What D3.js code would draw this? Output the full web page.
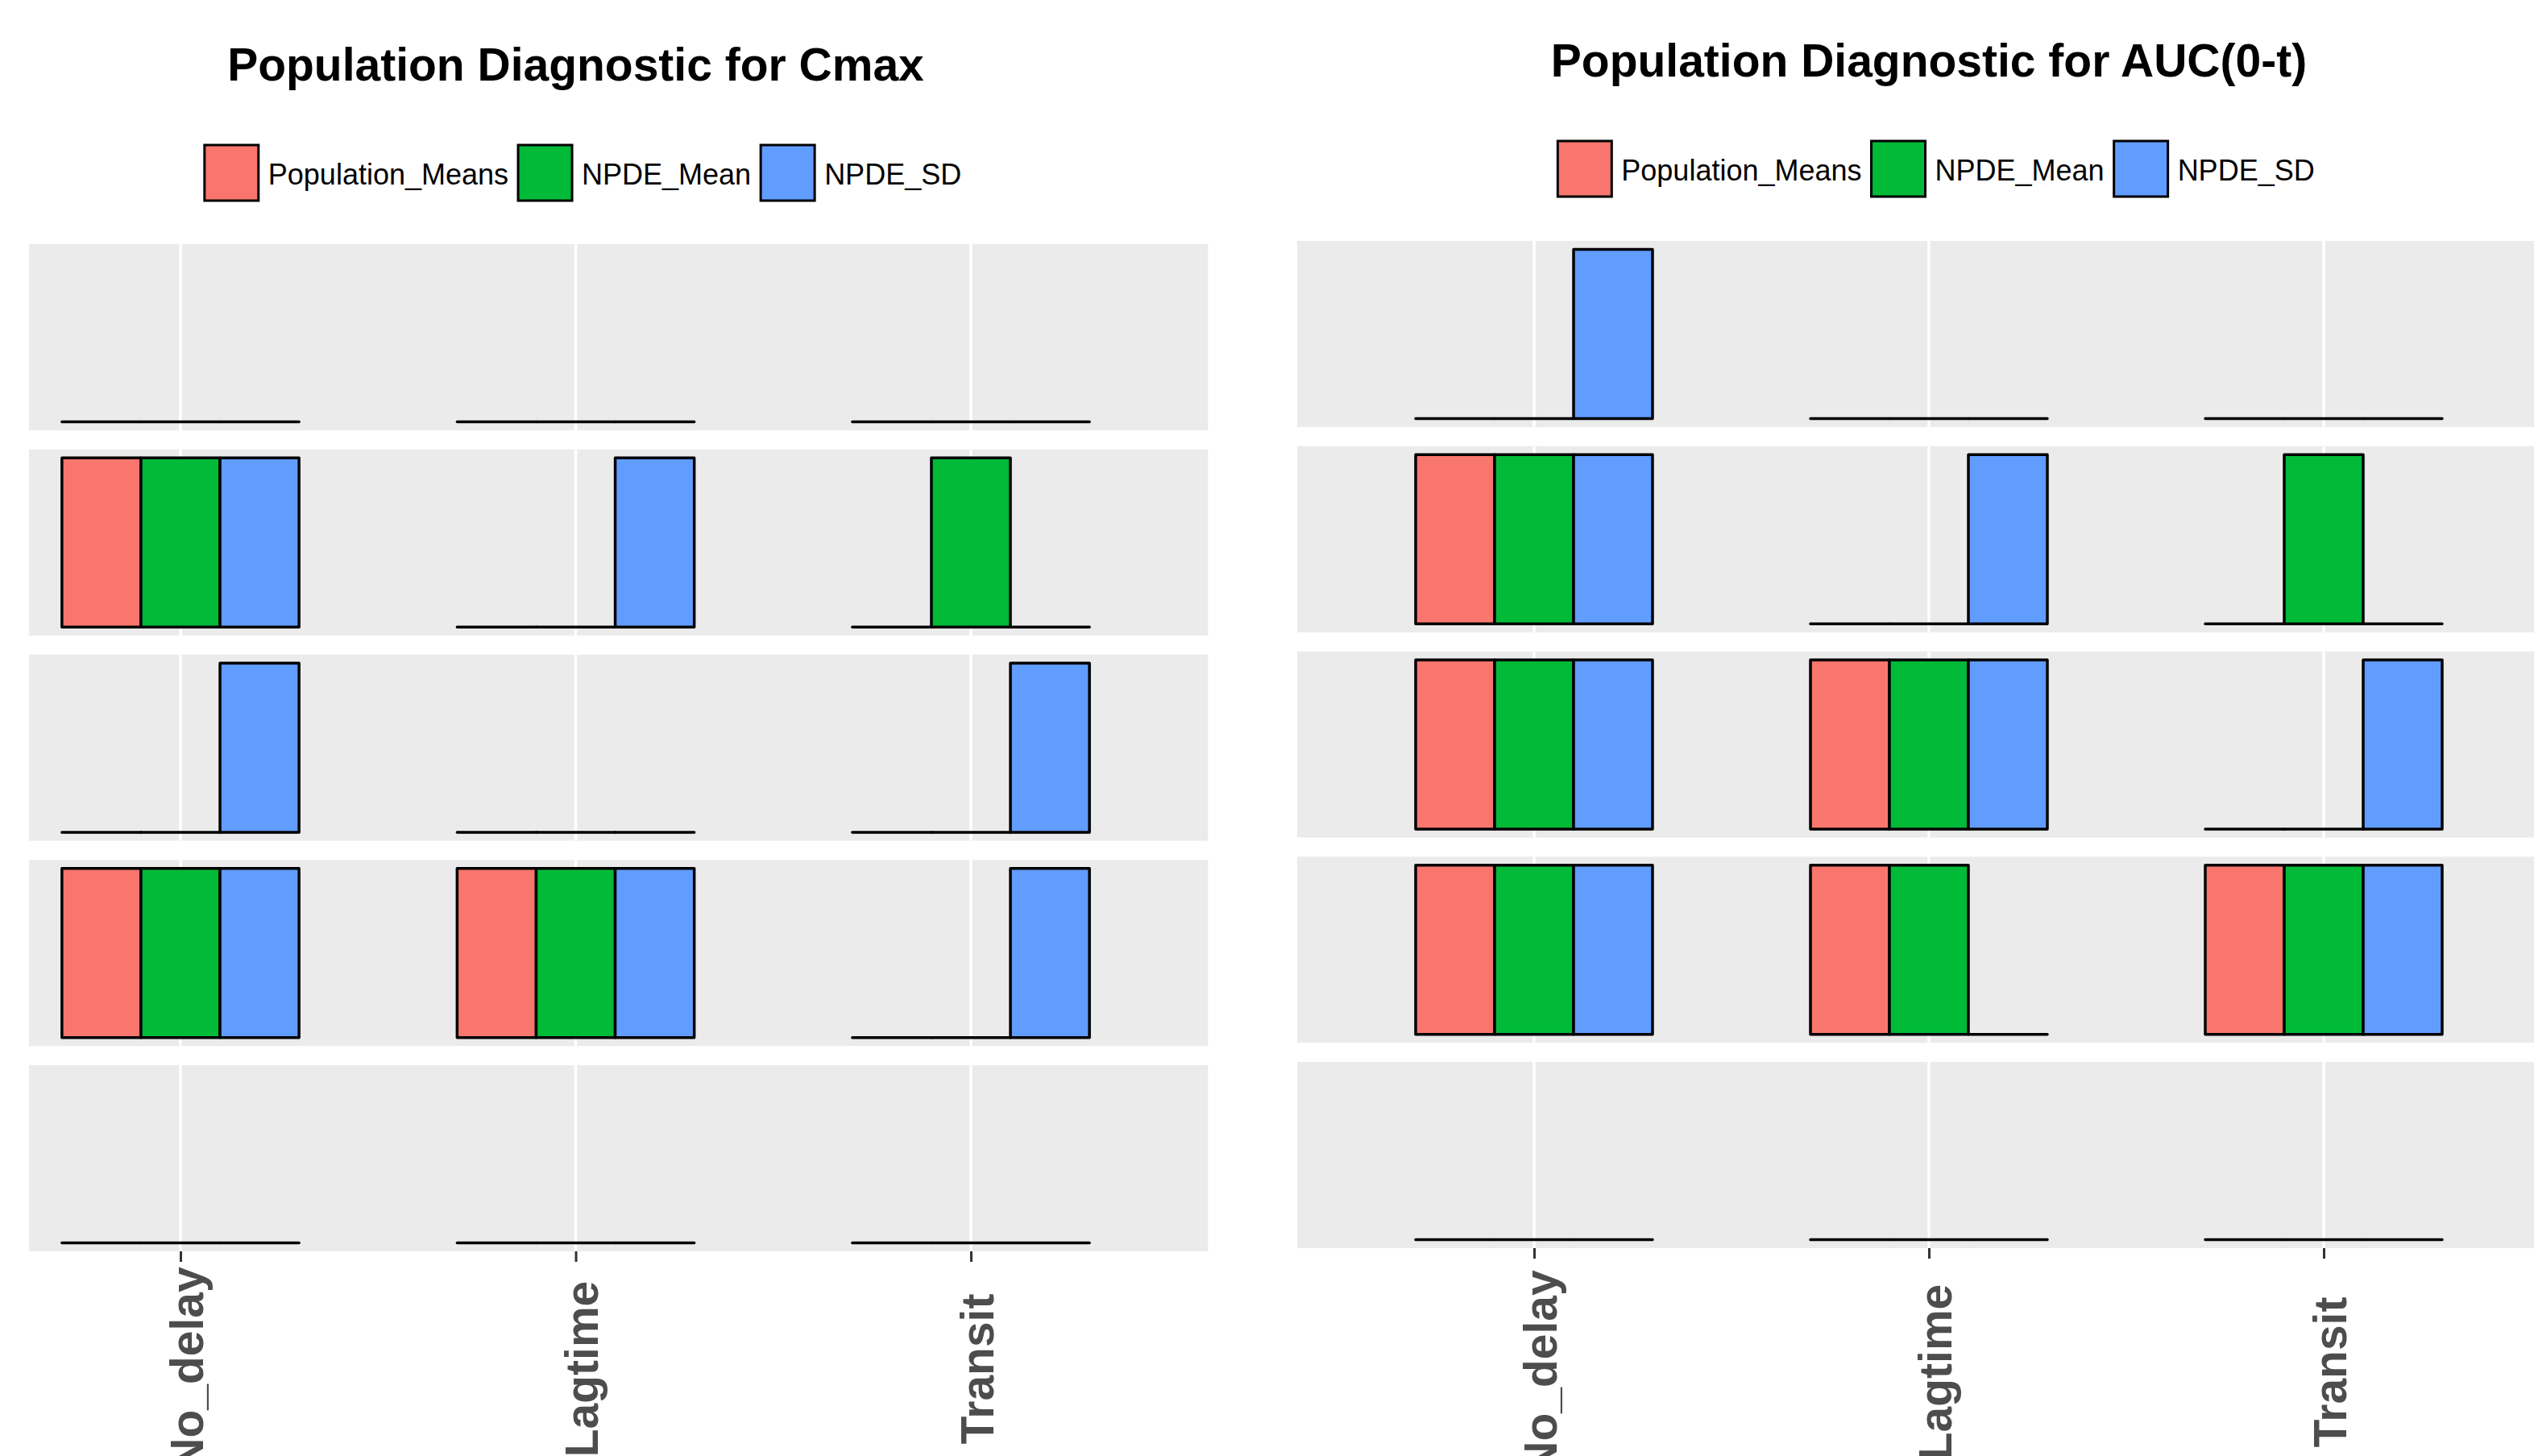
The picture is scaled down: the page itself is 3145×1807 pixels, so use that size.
<!DOCTYPE html>
<html>
<head>
<meta charset="utf-8">
<script src="https://cdn.jsdelivr.net/npm/d3@7"></script>
<style>
  body { margin: 0; background: #fff; }
  svg { display: block; font-family: "Liberation Sans", Arial, sans-serif; }
</style>
</head>
<body>
<svg id="chart" width="3145" height="1807"></svg>
<script>
const models = ["No_delay", "Lagtime", "Transit"];
const seriesNames = ["Population_Means", "NPDE_Mean", "NPDE_SD"];
const seriesColors = ["#F8766D", "#00BA38", "#619CFF"];

// facet rows top to bottom; per model: [Population_Means, NPDE_Mean, NPDE_SD]
const cmaxRows = [
  [[0, 0, 0], [0, 0, 0], [0, 0, 0]],
  [[1, 1, 1], [0, 0, 1], [0, 1, 0]],
  [[0, 0, 1], [0, 0, 0], [0, 0, 1]],
  [[1, 1, 1], [1, 1, 1], [0, 0, 1]],
  [[0, 0, 0], [0, 0, 0], [0, 0, 0]]
];
const aucRows = [
  [[0, 0, 1], [0, 0, 0], [0, 0, 0]],
  [[1, 1, 1], [0, 0, 1], [0, 1, 0]],
  [[1, 1, 1], [1, 1, 1], [0, 0, 1]],
  [[1, 1, 1], [1, 1, 0], [1, 1, 1]],
  [[0, 0, 0], [0, 0, 0], [0, 0, 0]]
];

const charts = [
  { id: "cmax", title: "Population Diagnostic for Cmax", rows: cmaxRows,
    xRange: [224, 1205], clipLeft: 36, titleY: 100, legendTop: 180, panelTop: 303 },
  { id: "auc", title: "Population Diagnostic for AUC(0-t)", rows: aucRows,
    xRange: [1904, 2884], clipLeft: 1500, titleY: 95, legendTop: 175, panelTop: 299 }
];

const svg = d3.select("#chart");
const rowH = 231;
const rowGap = 23.75;

const drawChart = (c) => {
  const x = d3.scalePoint().domain(models).range(c.xRange);
  const step = x.step();
  const panelLeft = c.xRange[0] - 0.6 * step;
  const panelRight = c.xRange[1] + 0.6 * step;
  const center = (panelLeft + panelRight) / 2;

  const dodge = d3.scaleBand().domain(seriesNames).range([-0.3 * step, 0.3 * step]);

  const rowIdx = d3.range(c.rows.length);
  const panelBottom = c.panelTop + c.rows.length * rowH + (c.rows.length - 1) * rowGap;
  const rowScale = d3.scaleBand()
    .domain(rowIdx)
    .range([c.panelTop, panelBottom])
    .paddingInner(rowGap / (rowH + rowGap));

  const y = d3.scaleLinear().domain([-0.05, 1.05]).range([rowH, 0]);

  svg.append("defs").append("clipPath")
    .attr("id", "clip-" + c.id)
    .append("rect")
    .attr("x", c.clipLeft)
    .attr("y", 0)
    .attr("width", 3145 - c.clipLeft)
    .attr("height", 1807);

  const g = svg.append("g").attr("clip-path", "url(#clip-" + c.id + ")");

  // title
  g.append("text")
    .attr("x", center)
    .attr("y", c.titleY)
    .attr("text-anchor", "middle")
    .style("font-size", "57px")
    .style("font-weight", "bold")
    .style("fill", "#000")
    .text(c.title);

  // legend
  const legend = g.append("g");
  let lx = 0;
  seriesNames.forEach((name, i) => {
    legend.append("rect")
      .attr("x", lx)
      .attr("y", 0)
      .attr("width", 67)
      .attr("height", 69)
      .attr("fill", seriesColors[i])
      .attr("stroke", "#000")
      .attr("stroke-width", 3);
    const t = legend.append("text")
      .attr("x", lx + 79)
      .attr("y", 49)
      .style("font-size", "36px")
      .style("fill", "#000")
      .text(name);
    lx += 79 + t.node().getComputedTextLength() + 12;
  });
  const legendW = lx - 12;
  legend.attr("transform", `translate(${center + 9 - legendW / 2},${c.legendTop})`);

  // facet rows
  const rows = g.selectAll("g.row")
    .data(rowIdx)
    .join("g")
    .attr("class", "row")
    .attr("transform", (r) => `translate(0,${rowScale(r)})`);

  rows.append("rect")
    .attr("x", panelLeft)
    .attr("y", 0)
    .attr("width", panelRight - panelLeft)
    .attr("height", rowH)
    .attr("fill", "#EBEBEB");

  rows.selectAll("line.grid")
    .data(models)
    .join("line")
    .attr("class", "grid")
    .attr("x1", (m) => x(m))
    .attr("x2", (m) => x(m))
    .attr("y1", 0)
    .attr("y2", rowH)
    .attr("stroke", "#fff")
    .attr("stroke-width", 3.5);

  rows.selectAll("path.bar")
    .data((r) => {
      const out = [];
      models.forEach((m, mi) => {
        seriesNames.forEach((s, si) => {
          out.push({ model: m, series: s, color: seriesColors[si], value: c.rows[r][mi][si] });
        });
      });
      return out;
    })
    .join("path")
    .attr("class", "bar")
    .attr("d", (d) => {
      const x0 = x(d.model) + dodge(d.series);
      const x1 = x0 + dodge.bandwidth();
      const y0 = y(0);
      const y1 = y(d.value);
      return `M${x0},${y0}L${x0},${y1}L${x1},${y1}L${x1},${y0}Z`;
    })
    .attr("fill", (d) => d.color)
    .attr("stroke", "#000")
    .attr("stroke-width", 3.5)
    .attr("stroke-linejoin", "round");

  // x axis
  const axis = g.append("g")
    .attr("transform", `translate(0,${panelBottom})`)
    .call(d3.axisBottom(x).tickSize(13).tickSizeOuter(0));
  axis.select(".domain").remove();
  axis.selectAll(".tick line")
    .attr("stroke", "#333")
    .attr("stroke-width", 3);
  axis.selectAll(".tick text")
    .attr("x", 0)
    .attr("y", 0)
    .attr("dy", null)
    .attr("text-anchor", "middle")
    .attr("transform", `translate(27,${1699 - (c.panelTop - 303) - panelBottom}) rotate(-90)`)
    .style("font-size", "57px")
    .style("font-weight", "bold")
    .style("font-family", "'Liberation Sans', Arial, sans-serif")
    .style("fill", "#4D4D4D");
};

charts.forEach(drawChart);
</script>
</body>
</html>
